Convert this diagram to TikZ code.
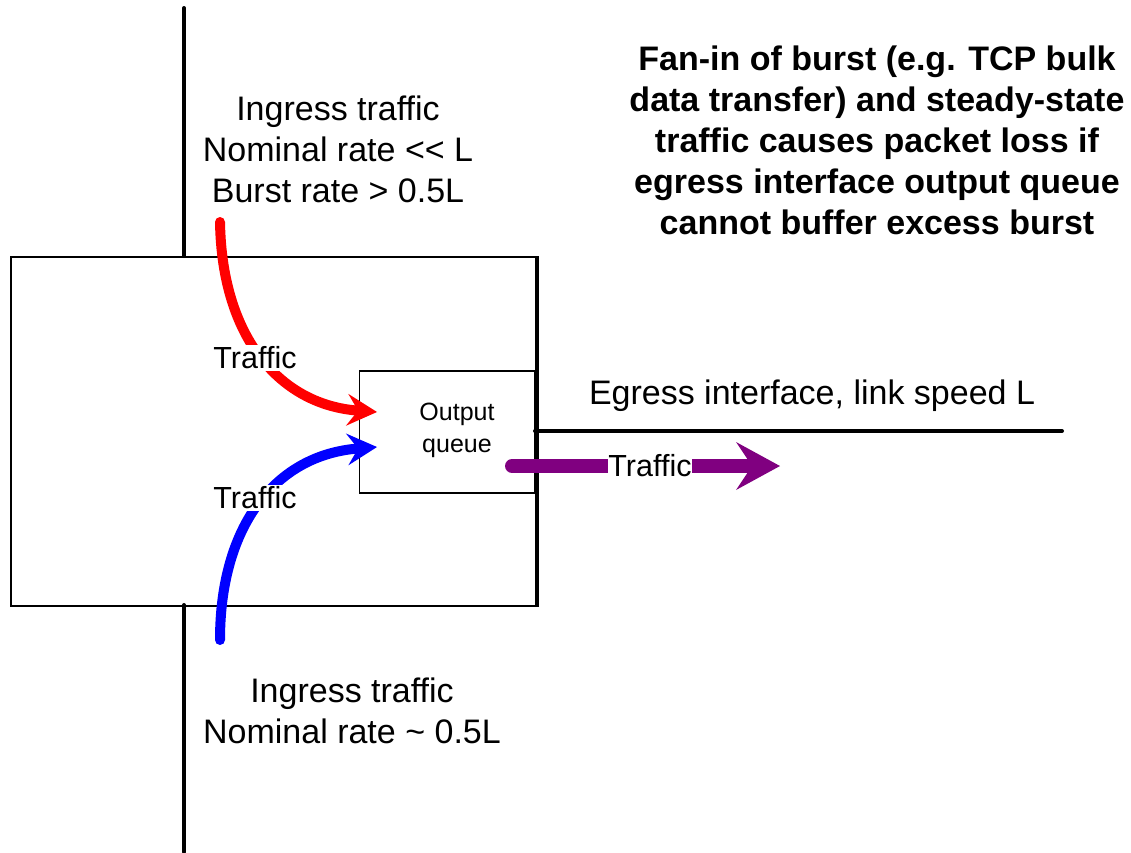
\documentclass[tikz,border=0pt]{standalone}
\usepackage{fontspec}
\setmainfont{Liberation Sans}
\usetikzlibrary{arrows.meta}
\definecolor{flowpurple}{RGB}{128,0,128}
\begin{document}
\begin{tikzpicture}[x=1pt,y=-1pt,
  wire/.style={line width=4pt,line cap=round},
  flow/.style={line width=10pt,line cap=round,
    -{Stealth[length=30pt,width=32pt,inset=11pt,line width=0pt]}},
  tag/.style={fill=white,inner xsep=0.5pt,inner ysep=2pt,font=\fontsize{30.5}{36}\selectfont},
  caption/.style={align=center,inner sep=0pt,font=\fontsize{34}{41}\selectfont}]
\useasboundingbox (0,0) rectangle (1131,852);

% router chassis and output queue
\node[draw,line width=2pt,minimum width=525pt,minimum height=349pt,inner sep=0pt,
      anchor=north west] (router) at (10,256) {};
\draw[line width=4pt] (router.north east) -- (router.south east);
\node[draw,line width=1.5pt,minimum width=175pt,minimum height=122pt,inner sep=0pt,
      anchor=north east] (queue) at (535,370) {};
\node[align=center,inner sep=0pt,font=\fontsize{25}{32}\selectfont] (qlabel) at (457,430) {Output\\queue};

% ingress links
\coordinate (uplink-top) at (184,8);
\coordinate (uplink-end) at (184,256);
\coordinate (downlink-top) at (184,605);
\coordinate (downlink-end) at (184,852);
\draw[wire] (uplink-top) -- (uplink-end);
\draw[wire] (downlink-top) -- (downlink-end);

% egress link
\coordinate (egress-start) at (535,431);
\coordinate (egress-end) at (1062,431);
\draw[wire] (egress-start) -- (egress-end);

% traffic flows
\coordinate (burst-src) at (220,222);
\coordinate (burst-in) at (377,412);
\draw[flow,red] (burst-src) .. controls (222,340) and (282,405) .. (burst-in);
\node[tag] (burst-tag) at (255,358) {Traffic};

\coordinate (steady-src) at (220,640);
\coordinate (steady-in) at (377,447);
\draw[flow,blue] (steady-src) .. controls (220,525) and (276,455) .. (steady-in);
\node[tag] (steady-tag) at (255,498) {Traffic};

\coordinate (out-src) at (512,466);
\coordinate (out-tip) at (780,466);
\draw[line width=14pt,line cap=round,flowpurple,
      -{Stealth[length=44pt,width=48pt,inset=16pt,line width=0pt]}] (out-src) -- (out-tip);
\node[tag] (out-tag) at (650,466) {Traffic};

% captions
\node[caption] (ingress-burst) at (338,149) {Ingress traffic\\Nominal rate {<}{<} L\\Burst rate > 0.5L};
\node[caption] (ingress-steady) at (352,711) {Ingress traffic\\Nominal rate \textasciitilde{} 0.5L};
\node[caption] (egress-label) at (812,396) {Egress interface, link speed L};
\node[caption,font=\bfseries\fontsize{34}{41}\selectfont] (note) at (877,140)
  {Fan-in of burst (e.g. TCP bulk\\data transfer) and steady-state\\traffic causes packet loss if\\egress interface output queue\\cannot buffer excess burst};
\end{tikzpicture}
\end{document}
